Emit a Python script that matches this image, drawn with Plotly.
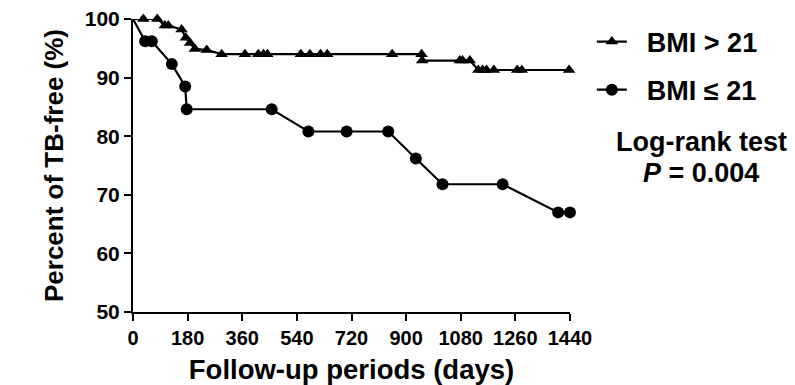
import plotly.graph_objects as go

# BMI > 21 (triangles)
gt_days = [34, 80, 105, 116, 160, 174, 188, 204, 243, 292, 369, 413, 430, 443,
           553, 583, 618, 640, 854, 951, 953, 1077, 1086, 1110, 1138, 1152,
           1165, 1189, 1266, 1281, 1437]
gt_pct = [100, 100, 98.9, 98.9, 98.2, 96.8, 95.9, 94.9, 94.7, 94.0, 94.0, 94.0,
          94.0, 94.0, 94.0, 94.0, 94.0, 94.0, 94.0, 94.0, 92.9, 92.9, 92.9, 92.9,
          91.3, 91.3, 91.3, 91.3, 91.3, 91.3, 91.3]

# BMI <= 21 (circles)
le_days = [40, 62, 128, 172, 177, 457, 578, 704, 841, 932, 1020, 1218, 1401, 1440]
le_pct = [96.2, 96.2, 92.3, 88.5, 84.6, 84.6, 80.8, 80.8, 80.8, 76.2, 71.8, 71.8,
          67.0, 67.0]

start_day = [0]
start_pct = [100]

x_ticks = [0, 180, 360, 540, 720, 900, 1080, 1260, 1440]
y_ticks = [50, 60, 70, 80, 90, 100]

FONT = "Liberation Sans, Arial, sans-serif"

fig = go.Figure()
# connecting segments from the start point
fig.add_trace(go.Scatter(x=start_day + gt_days[:1], y=start_pct + gt_pct[:1],
                         mode="lines", line=dict(color="black", width=2.2),
                         showlegend=False, cliponaxis=False, hoverinfo="skip"))
fig.add_trace(go.Scatter(x=start_day + le_days[:1], y=start_pct + le_pct[:1],
                         mode="lines", line=dict(color="black", width=2.2),
                         showlegend=False, cliponaxis=False, hoverinfo="skip"))
fig.add_trace(go.Scatter(x=gt_days, y=gt_pct, mode="lines+markers",
                         name="\u00a0\u00a0BMI > 21", legendgroup="a",
                         line=dict(color="black", width=2.2),
                         marker=dict(symbol="triangle-up", size=11, color="black"),
                         cliponaxis=False))
fig.add_trace(go.Scatter(x=le_days, y=le_pct, mode="lines+markers",
                         name="\u00a0\u00a0BMI ≤ 21", legendgroup="b",
                         line=dict(color="black", width=2.2),
                         marker=dict(symbol="circle", size=12, color="black"),
                         cliponaxis=False))

fig.update_layout(
    width=787, height=377,
    margin=dict(l=125, r=225, t=11, b=73, autoexpand=False),
    paper_bgcolor="white", plot_bgcolor="white",
    font=dict(family=FONT, color="black"),
    legend=dict(x=1.05, y=1.005, xanchor="left", yanchor="top",
                font=dict(size=27, family=FONT, color="black", weight="bold"),
                traceorder="grouped", tracegroupgap=10, itemwidth=30,
                bgcolor="rgba(0,0,0,0)"),
    xaxis=dict(range=[0, 1440], tickvals=x_ticks, ticks="outside", ticklen=7,
               tickwidth=2, tickcolor="black", showline=True, linewidth=2,
               linecolor="black", showgrid=False, zeroline=False, automargin=False,
               ticklabeloverflow="allow",
               tickfont=dict(size=20, family=FONT, weight="bold"),
               title=dict(text="<b>Follow-up periods (days)</b>",
                          font=dict(size=27.5, family=FONT), standoff=12)),
    yaxis=dict(range=[50, 100], tickvals=y_ticks, ticks="outside", ticklen=7,
               tickwidth=2, tickcolor="black", showline=True, linewidth=2,
               linecolor="black", showgrid=False, zeroline=False, automargin=False,
               ticklabeloverflow="allow",
               tickfont=dict(size=21, family=FONT, weight="bold"),
               title=dict(text="<b>Percent of TB-free (%)</b>",
                          font=dict(size=26, family=FONT), standoff=14)),
    annotations=[
        dict(text="<b>Log-rank test</b>", xref="paper", yref="paper",
             x=1.30, y=0.58, xanchor="center", yanchor="middle",
             showarrow=False, font=dict(size=27, family=FONT, color="black")),
        dict(text="<b><i>P</i> = 0.004</b>", xref="paper", yref="paper",
             x=1.30, y=0.474, xanchor="center", yanchor="middle",
             showarrow=False, font=dict(size=27, family=FONT, color="black")),
    ],
)

fig.write_html("out.html")
